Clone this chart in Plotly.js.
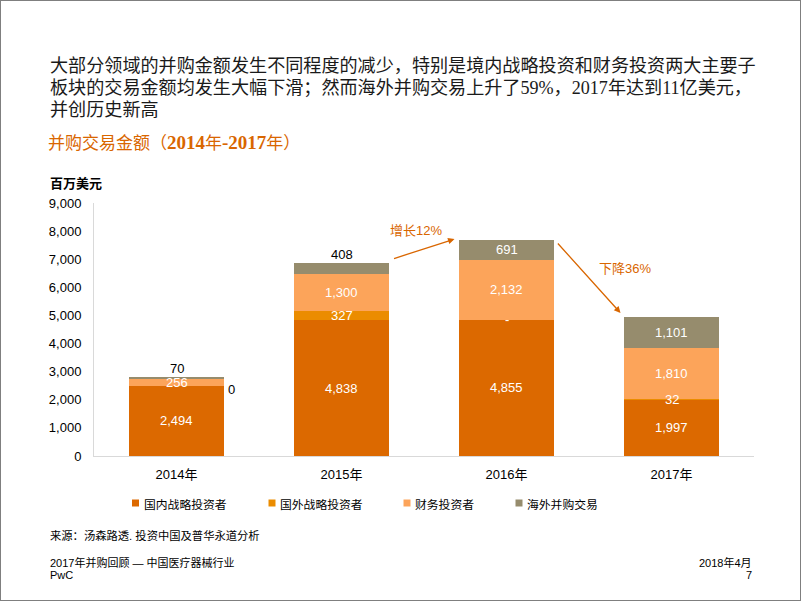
<!DOCTYPE html>
<html>
<head>
<meta charset="utf-8">
<script src="https://cdn.plot.ly/plotly-3.0.1.min.js"></script>
<style>
  html, body { margin: 0; padding: 0; background: #fff; }
  #wrap { position: relative; width: 802px; height: 602px; }
  #chart { width: 802px; height: 602px; }
  #frame { position: absolute; left: 0; top: 0; width: 799px; height: 599px; border: 1px solid #7f7f7f; pointer-events: none; }
</style>
</head>
<body>
<div id="wrap"><div id="chart"></div><div id="frame"></div></div>
<script>
// ---------------- data ----------------
const categories = ['2014年', '2015年', '2016年', '2017年'];
const seriesNames = ['国内战略投资者', '国外战略投资者', '财务投资者', '海外并购交易'];
const domestic  = [2494, 4838, 4855, 1997];
const foreign   = [0, 327, 0, 32];
const financial = [256, 1300, 2132, 1810];
const overseas  = [70, 408, 691, 1101];
const foreignLabels = ['0', '327', '-', '32'];
const yTickVals = [0, 1000, 2000, 3000, 4000, 5000, 6000, 7000, 8000, 9000];

const headerLines = [
  '大部分领域的并购金额发生不同程度的减少，特别是境内战略投资和财务投资两大主要子',
  '板块的交易金额均发生大幅下滑；然而海外并购交易上升了59%，2017年达到11亿美元，',
  '并创历史新高'
];
const chartTitle = '并购交易金额（<span style="font-size:19px"><b>2014</b></span>年<span style="font-size:19px"><b>-2017</b></span>年）';
const unitLabel = '百万美元';
const growthText = '增长12%';
const declineText = '下降36%';
const sourceText = '来源：汤森路透. 投资中国及普华永道分析';
const footerLeft = ['2017年并购回顾 — 中国医疗器械行业', 'PwC'];
const footerRight = ['2018年4月', '7'];

// ---------------- styles ----------------
const colors = ['#DC6900', '#EB8C00', '#FCA45A', '#968C6D'];
const orange = '#D96600';
const SANS = 'Liberation Sans, Arial, Noto Sans CJK SC, sans-serif';
const CJK = 'Noto Sans CJK SC, Liberation Sans, sans-serif';
const SERIF = 'Liberation Serif, Noto Sans CJK SC, serif';
const BAR_W = 0.576;

// plot area in pixels
const PL = 94, PR = 754, PT = 203, PB = 456;
const px2x = px => (px - PL) / (PR - PL);
const py2y = py => (PB - py) / (PB - PT);

const fmt = v => v.toLocaleString('en-US');

const seriesVals = [domestic, foreign, financial, overseas];
const traces = seriesVals.map((vals, k) => ({
  type: 'bar',
  name: seriesNames[k],
  x: categories,
  y: vals,
  width: BAR_W,
  marker: { color: colors[k], line: { width: 0 } },
  textposition: 'none',
  hoverinfo: 'x+y+name',
  showlegend: false
}));

// ---------------- data labels ----------------
const annotations = [];
const white = '#ffffff';
const labFont = (c) => ({ family: SANS, size: 13, color: c });

categories.forEach((cat, i) => {
  let base = 0;
  annotations.push({ x: i, y: base + domestic[i] / 2, xref: 'x', yref: 'y', text: fmt(domestic[i]),
    showarrow: false, borderpad: 0, font: labFont(white) });
  base += domestic[i];
  if (i === 0) {
    annotations.push({ x: i + BAR_W / 2, y: base, xref: 'x', yref: 'y', text: foreignLabels[i],
      showarrow: false, borderpad: 0, xanchor: 'left', xshift: 3, yshift: -4, font: labFont('#000') });
  } else {
    annotations.push({ x: i, y: base + foreign[i] / 2, xref: 'x', yref: 'y', text: foreignLabels[i],
      showarrow: false, borderpad: 0, font: labFont(white) });
  }
  base += foreign[i];
  annotations.push({ x: i, y: base + financial[i] / 2, xref: 'x', yref: 'y', text: fmt(financial[i]),
    showarrow: false, borderpad: 0, font: labFont(white) });
  base += financial[i];
  if (overseas[i] < 500) {
    annotations.push({ x: i, y: base + overseas[i], xref: 'x', yref: 'y', text: fmt(overseas[i]),
      showarrow: false, borderpad: 0, yanchor: 'bottom', yshift: 0, font: labFont('#000') });
  } else {
    annotations.push({ x: i, y: base + overseas[i] / 2, xref: 'x', yref: 'y', text: fmt(overseas[i]),
      showarrow: false, borderpad: 0, font: labFont(white) });
  }
});

// arrows + their texts
annotations.push({ x: 1.685, y: 7719, xref: 'x', yref: 'y', ax: -62, ay: 20, text: '',
  showarrow: true, arrowhead: 2, arrowsize: 1, arrowwidth: 1.3, arrowcolor: orange });
annotations.push({ x: 2.691, y: 5087, xref: 'x', yref: 'y', ax: -64, ay: -71, text: '',
  showarrow: true, arrowhead: 2, arrowsize: 1, arrowwidth: 1.3, arrowcolor: orange });
annotations.push({ x: 1.4545, y: 8039, xref: 'x', yref: 'y', text: growthText, showarrow: false,
  font: { family: SANS, size: 13, color: orange } });
annotations.push({ x: 2.721, y: 6687, xref: 'x', yref: 'y', text: declineText, showarrow: false,
  font: { family: SANS, size: 13, color: orange } });

// header lines
const headerY = [66, 88, 110];
headerLines.forEach((t, i) => annotations.push({
  x: px2x(48), y: py2y(headerY[i]), xref: 'paper', yref: 'paper', xanchor: 'left', yanchor: 'middle',
  text: t, showarrow: false, font: { family: SERIF, size: 18.1, color: '#1a1a1a' }
}));

// unit label
annotations.push({ x: px2x(48), y: py2y(182), xref: 'paper', yref: 'paper', xanchor: 'left', yanchor: 'middle',
  text: '<b>' + unitLabel + '</b>', showarrow: false, font: { family: CJK, size: 13, color: '#000' } });

// custom legend
const legendMarkX = [135.5, 272, 407, 519];
const legendY = 503;
const shapes = [];
seriesNames.forEach((n, k) => {
  shapes.push({ type: 'rect', xref: 'paper', yref: 'paper',
    x0: px2x(legendMarkX[k] - 3.5), x1: px2x(legendMarkX[k] + 3.5),
    y0: py2y(legendY + 3.5), y1: py2y(legendY - 3.5),
    fillcolor: colors[k], line: { width: 0 } });
  annotations.push({ x: px2x(legendMarkX[k] + 6), y: py2y(legendY), xref: 'paper', yref: 'paper',
    xanchor: 'left', yanchor: 'middle', text: n, showarrow: false,
    font: { family: CJK, size: 11.8, color: '#000' } });
});

// source & footer
annotations.push({ x: px2x(48), y: py2y(535), xref: 'paper', yref: 'paper', xanchor: 'left', yanchor: 'middle',
  text: sourceText, showarrow: false, font: { family: SANS, size: 11.3, color: '#000' } });
const footY = [562, 575];
footerLeft.forEach((t, i) => annotations.push({ x: px2x(48), y: py2y(footY[i]), xref: 'paper', yref: 'paper',
  xanchor: 'left', yanchor: 'middle', text: t, showarrow: false, font: { family: SANS, size: 11, color: '#000' } }));
footerRight.forEach((t, i) => annotations.push({ x: px2x(754), y: py2y(footY[i]), xref: 'paper', yref: 'paper',
  xanchor: 'right', yanchor: 'middle', text: t, showarrow: false, font: { family: SANS, size: 11, color: '#000' } }));

const layout = {
  width: 802, height: 602,
  margin: { l: PL, r: 802 - PR, t: PT, b: 602 - PB, pad: 0 },
  paper_bgcolor: '#ffffff', plot_bgcolor: '#ffffff',
  barmode: 'stack',
  showlegend: false,
  title: { text: chartTitle, font: { family: SERIF, size: 17, color: orange },
    xref: 'container', yref: 'container', x: 48 / 802, xanchor: 'left', y: 1 - 143 / 602, yanchor: 'middle' },
  xaxis: {
    type: 'category', range: [-0.5, 3.5],
    showline: true, linecolor: '#d9d9d9', linewidth: 1,
    showgrid: false, zeroline: false, ticks: '',
    tickfont: { family: SANS, size: 13, color: '#000' },
    ticklabelstandoff: 6, fixedrange: true
  },
  yaxis: {
    range: [0, 9000], tickvals: yTickVals, tickformat: ',d',
    showline: true, linecolor: '#d9d9d9', linewidth: 1,
    showgrid: false, zeroline: false, ticks: '',
    tickfont: { family: SANS, size: 13, color: '#000' },
    ticklabelstandoff: 9, fixedrange: true
  },
  annotations: annotations,
  shapes: shapes
};

Plotly.newPlot('chart', traces, layout, { displayModeBar: false, staticPlot: true });
</script>
</body>
</html>
